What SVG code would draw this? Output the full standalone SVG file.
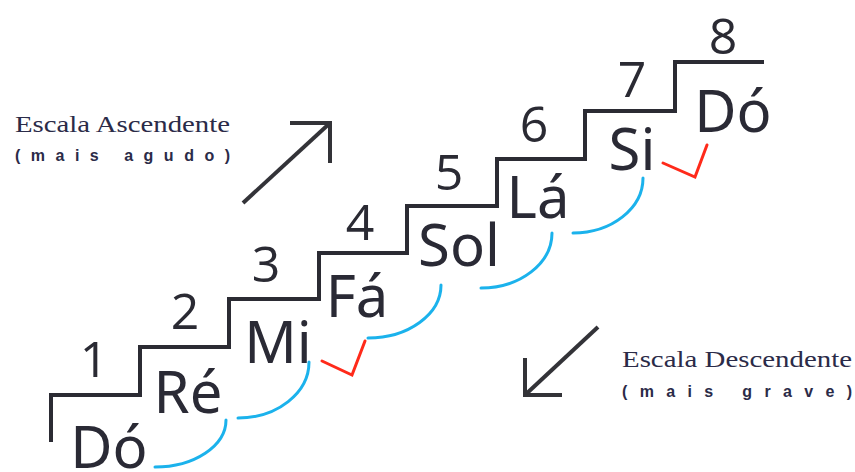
<svg xmlns="http://www.w3.org/2000/svg" width="855" height="472" viewBox="0 0 855 472">
<defs>
<style>
.stair{fill:none;stroke:#2b2b33;stroke-width:4;stroke-linejoin:miter}
.arrow{fill:none;stroke:#333338;stroke-width:4;stroke-linecap:butt;stroke-linejoin:miter}
.arc{fill:none;stroke:#1bb2ec;stroke-width:3;stroke-linecap:round}
.check{fill:none;stroke:#ff2a1a;stroke-width:3;stroke-linecap:round;stroke-linejoin:miter}
.num{font-family:"Open Sans","Noto Sans",sans-serif;font-size:50px;fill:#2a2a33;text-anchor:middle}
.note{font-family:"Noto Sans","DejaVu Sans",sans-serif;font-size:58px;fill:#2a2a35;text-anchor:middle}
.lab{font-family:"Liberation Serif",serif;font-size:23px;fill:#2b2b48}
.sub{font-family:"Liberation Sans",sans-serif;font-size:16px;font-weight:bold;fill:#2b2b48}
</style>
</defs>
<rect width="855" height="472" fill="#ffffff"/>
<g id="staircase">
<path class="stair" d="M51,442 V395 H140 V347 H229 V299 H319 V253 H407 V206 H497 V159 H585 V111 H675 V62 H764"/>
</g>
<g id="numbers">
<text class="num" x="94" y="377">1</text>
<text class="num" x="185" y="329">2</text>
<text class="num" x="266" y="282">3</text>
<text class="num" x="360" y="240">4</text>
<text class="num" x="449" y="190">5</text>
<text class="num" x="534" y="142">6</text>
<text class="num" x="632" y="97">7</text>
<text class="num" x="723" y="54">8</text>
</g>
<g id="note-do1"><text class="note" x="109" y="468">Dó</text></g>
<g id="note-re"><text class="note" x="188" y="413">Ré</text></g>
<g id="note-mi"><text class="note" x="278" y="363">Mi</text></g>
<g id="note-fa"><text class="note" x="357" y="317">Fá</text></g>
<g id="note-sol"><text class="note" x="459" y="266">Sol</text></g>
<g id="note-la"><text class="note" x="538" y="218">Lá</text></g>
<g id="note-si"><text class="note" x="632" y="170">Si</text></g>
<g id="note-do8"><text class="note" x="733" y="132">Dó</text></g>
<g id="connectors">
<path class="arc" d="M155,467 A71,47 0 0 0 226,420"/>
<path class="arc" d="M238,418 A71,56 0 0 0 309,362"/>
<path class="arc" d="M368,338 A73,53 0 0 0 441,285"/>
<path class="arc" d="M481,288 A71,55 0 0 0 552,233"/>
<path class="arc" d="M573,233 A70,55 0 0 0 643,178"/>
<path class="check" d="M322,361 L352,375 L365,341"/>
<path class="check" d="M663,163 L695,177 L707,145"/>
</g>
<g id="arrow-up">
<path class="arrow" d="M243,203 L330,123"/>
<path class="arrow" d="M290,123 H330 V163"/>
</g>
<g id="arrow-down">
<path class="arrow" d="M598,327 L525,395"/>
<path class="arrow" d="M525,358 V395 H562"/>
</g>
<g id="label-asc">
<text class="lab" x="15" y="132" textLength="215" lengthAdjust="spacingAndGlyphs">Escala Ascendente</text>
<text class="sub" x="15" y="161" textLength="215" lengthAdjust="spacing">(mais agudo)</text>
</g>
<g id="label-desc">
<text class="lab" x="622" y="367" textLength="230" lengthAdjust="spacingAndGlyphs">Escala Descendente</text>
<text class="sub" x="622" y="397" textLength="230" lengthAdjust="spacing">(mais grave)</text>
</g>
</svg>
